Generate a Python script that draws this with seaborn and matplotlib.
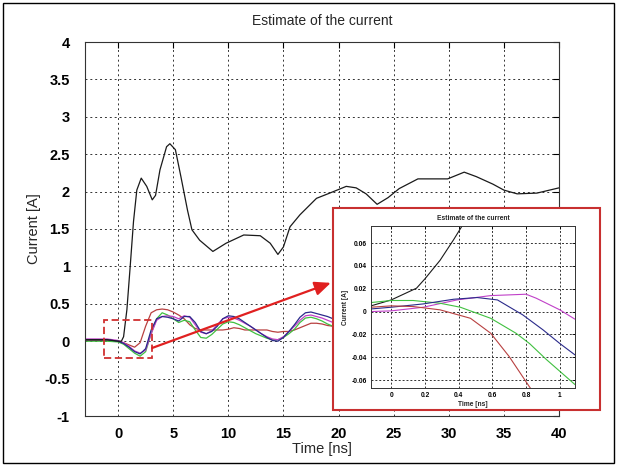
import numpy as np
import pandas as pd
import matplotlib
matplotlib.use("Agg")
import matplotlib.pyplot as plt
import seaborn as sns
from matplotlib.patches import Rectangle

sns.set_theme(style="white")
plt.rcParams['font.family'] = ['Liberation Sans', 'DejaVu Sans']

# ---------------- data ----------------
# Main estimate (black)
t_main = [-3, -1, 0, 0.3, 0.5, 0.8, 1.1, 1.4, 1.7, 2.1, 2.6, 3.1, 3.4, 3.8, 4.4, 4.7,
          5.2, 5.7, 6.3, 6.7, 7.4, 8.6, 9.8, 11.4, 12.9, 13.8, 14.5, 15.0, 15.6, 16.5,
          18.0, 19.2, 20.7, 21.6, 22.5, 23.5, 24.5, 25.5, 27.2, 29.9, 31.4, 32.5,
          34.0, 35.0, 36.2, 38.0, 40.0]
i_main = [0.02, 0.02, 0.0, 0.0, 0.06, 0.42, 1.0, 1.6, 2.02, 2.18, 2.07, 1.89, 1.95,
          2.29, 2.6, 2.64, 2.56, 2.2, 1.75, 1.49, 1.35, 1.2, 1.31, 1.42, 1.41, 1.31,
          1.16, 1.26, 1.53, 1.69, 1.91, 1.98, 2.07, 2.05, 1.97, 1.83, 1.92, 2.04,
          2.17, 2.17, 2.26, 2.2, 2.1, 2.02, 1.97, 1.98, 2.05]

# Coloured estimates (visible part)
t_col = [-3, -1, 0, 0.5, 1, 1.5, 2, 2.5, 3, 3.5, 4, 4.5, 5, 5.5, 6, 6.5, 7, 7.5, 8,
         8.5, 9, 9.5, 10, 10.5, 11, 11.5, 12, 12.5, 13, 13.5, 14, 14.5, 15, 15.5,
         16, 16.5, 17, 17.5, 18, 18.5, 19, 19.5, 20]
i_navy = [0.02, 0.02, 0.0, -0.03, -0.08, -0.14, -0.17, -0.1, 0.15, 0.3, 0.33, 0.32,
          0.3, 0.27, 0.33, 0.33, 0.25, 0.13, 0.1, 0.13, 0.2, 0.3, 0.34, 0.33, 0.3,
          0.25, 0.2, 0.15, 0.1, 0.05, 0.01, 0.0, 0.05, 0.13, 0.22, 0.32, 0.38, 0.39,
          0.37, 0.35, 0.33, 0.3, 0.28]
i_magenta = [0.03, 0.03, 0.01, -0.02, -0.07, -0.13, -0.16, -0.12, 0.1, 0.28, 0.33,
             0.34, 0.33, 0.3, 0.34, 0.32, 0.22, 0.12, 0.1, 0.14, 0.22, 0.3, 0.32,
             0.31, 0.28, 0.24, 0.2, 0.15, 0.1, 0.06, 0.03, 0.02, 0.06, 0.13, 0.2,
             0.28, 0.34, 0.35, 0.33, 0.31, 0.28, 0.25, 0.24]
i_green = [0.0, 0.0, -0.01, -0.04, -0.1, -0.16, -0.2, -0.14, 0.1, 0.3, 0.38, 0.35,
           0.3, 0.25, 0.28, 0.26, 0.15, 0.05, 0.04, 0.09, 0.16, 0.23, 0.26, 0.25,
           0.22, 0.18, 0.14, 0.1, 0.07, 0.04, 0.02, 0.02, 0.05, 0.1, 0.16, 0.25,
           0.31, 0.32, 0.3, 0.27, 0.23, 0.2, 0.18]
i_red = [0.01, 0.01, 0.0, -0.02, -0.05, -0.08, -0.02, 0.2, 0.38, 0.42, 0.43, 0.42,
         0.39, 0.35, 0.3, 0.22, 0.17, 0.15, 0.15, 0.15, 0.15, 0.15, 0.16, 0.18, 0.17,
         0.15, 0.15, 0.15, 0.15, 0.15, 0.13, 0.12, 0.13, 0.13, 0.15, 0.18, 0.21,
         0.24, 0.24, 0.23, 0.21, 0.2, 0.2]

# Inset (zoom on 0..1 ns)
t_in_black = [-0.12, 0.0, 0.15, 0.2, 0.29, 0.37, 0.42]
i_in_black = [0.005, 0.0102, 0.0205, 0.0287, 0.045, 0.063, 0.075]
t_in_green = [-0.12, 0.0, 0.13, 0.29, 0.41, 0.59, 0.74, 0.82, 0.92, 1.09]
i_in_green = [0.0079, 0.0097, 0.0097, 0.0073, 0.0038, -0.0059, -0.019, -0.028, -0.042, -0.064]
t_in_red = [-0.12, 0.0, 0.13, 0.29, 0.47, 0.59, 0.70, 0.82, 0.84]
i_in_red = [0.0038, 0.005, 0.0044, 0.0015, -0.0059, -0.019, -0.0395, -0.066, -0.07]
t_in_navy = [-0.12, 0.0, 0.19, 0.37, 0.51, 0.63, 0.78, 0.90, 1.0, 1.09]
i_in_navy = [0.0023, 0.0038, 0.0067, 0.0108, 0.0123, 0.0102, -0.0029, -0.016, -0.028, -0.038]
t_in_mag = [-0.12, 0.0, 0.19, 0.39, 0.59, 0.8, 0.86, 1.0, 1.09]
i_in_mag = [0.0, 0.0006, 0.0038, 0.0102, 0.014, 0.0152, 0.0117, 0.0015, -0.0067]

x_ticks = [0, 5, 10, 15, 20, 25, 30, 35, 40]
y_ticks = [-1, -0.5, 0, 0.5, 1, 1.5, 2, 2.5, 3, 3.5, 4]
y_tick_labels = ["-1", "-0.5", "0", "0.5", "1", "1.5", "2", "2.5", "3", "3.5", "4"]
in_x_ticks = [0, 0.2, 0.4, 0.6, 0.8, 1]
in_x_labels = ["0", "0.2", "0.4", "0.6", "0.8", "1"]
in_y_ticks = [-0.06, -0.04, -0.02, 0, 0.02, 0.04, 0.06]
in_y_labels = ["-0.06", "-0.04", "-0.02", "0", "0.02", "0.04", "0.06"]

C_BLACK = "#1a1a1a"
C_NAVY = "#2a2a8a"
C_MAG = "#c040c8"
C_GREEN = "#40c040"
C_RED = "#b84040"

# ---------------- figure ----------------
fig = plt.figure(figsize=(6.17, 4.66), dpi=100)
fig.patch.set_facecolor("white")
fig.patches.append(Rectangle((3 / 617, 3 / 466), 611 / 617, 460 / 466, transform=fig.transFigure,
                             fill=False, edgecolor="black", linewidth=1.0, zorder=0))

ax = fig.add_axes([85 / 617, 50 / 466, 474 / 617, 374 / 466])
ax.set_zorder(1)

def draw(axis, t, v, color, lw):
    df = pd.DataFrame({"t": t, "v": v})
    sns.lineplot(data=df, x="t", y="v", ax=axis, color=color, linewidth=lw,
                 estimator=None, sort=False)

draw(ax, t_col, i_red, C_RED, 0.9)
draw(ax, t_col, i_green, C_GREEN, 0.9)
draw(ax, t_col, i_magenta, C_MAG, 0.9)
draw(ax, t_col, i_navy, C_NAVY, 0.9)
draw(ax, t_main, i_main, C_BLACK, 0.9)

ax.set_xlim(-3, 40)
ax.set_ylim(-1, 4)
ax.set_xticks(x_ticks)
ax.set_xticklabels([str(v) for v in x_ticks])
ax.set_yticks(y_ticks)
ax.set_yticklabels(y_tick_labels)
ax.tick_params(direction="in", length=4, width=0.8, top=True, right=True,
               labelsize=10.5, colors="black")
ax.tick_params(axis="y", pad=11)
ax.tick_params(axis="x", pad=8)
for lab in ax.get_xticklabels() + ax.get_yticklabels():
    lab.set_fontweight("bold")
ax.grid(True, color="#333333", linestyle=(0, (2, 3)), linewidth=0.7)
for s in ax.spines.values():
    s.set_visible(True)
    s.set_color("#333333")
    s.set_linewidth(0.8)
ax.set_xlabel("Time [ns]", fontsize=10.5, labelpad=1)
ax.set_ylabel("Current [A]", fontsize=10.5, labelpad=2)
ax.set_title("Estimate of the current", fontsize=10, pad=12)

# red dashed zoom rectangle
ax.add_patch(Rectangle((-1.27, -0.23), 4.35, 0.52, fill=False, edgecolor="#d03030",
                       linestyle=(0, (4, 2)), linewidth=1.3, zorder=5))
# arrow
ax.annotate("", xy=(19.3, 0.78), xytext=(3.1, -0.09),
            arrowprops=dict(arrowstyle="-|>,head_length=0.8,head_width=0.35",
                            color="#e02020", linewidth=1.6, shrinkA=0, shrinkB=0),
            zorder=6)

# inset frame
fig.patches.append(Rectangle((333 / 617, 56 / 466), 267 / 617, 202 / 466, transform=fig.transFigure,
                             facecolor="white", edgecolor="#c83030", linewidth=1.5, zorder=2))

axin = fig.add_axes([371 / 617, 78 / 466, 204 / 617, 162 / 466])
axin.set_zorder(3)
draw(axin, t_in_black, i_in_black, C_BLACK, 0.8)
draw(axin, t_in_mag, i_in_mag, C_MAG, 0.8)
draw(axin, t_in_green, i_in_green, C_GREEN, 0.8)
draw(axin, t_in_navy, i_in_navy, C_NAVY, 0.8)
draw(axin, t_in_red, i_in_red, C_RED, 0.8)
axin.set_xlim(-0.12, 1.09)
axin.set_ylim(-0.067, 0.075)
axin.set_xticks(in_x_ticks)
axin.set_xticklabels(in_x_labels)
axin.set_yticks(in_y_ticks)
axin.set_yticklabels(in_y_labels)
axin.tick_params(direction="in", length=2, width=0.6, top=True, right=True,
                 labelsize=4.8, pad=3, colors="black")
for lab in axin.get_xticklabels() + axin.get_yticklabels():
    lab.set_fontweight("bold")
axin.grid(True, color="#333333", linestyle=(0, (2, 2)), linewidth=0.7)
for s in axin.spines.values():
    s.set_visible(True)
    s.set_color("#333333")
    s.set_linewidth(0.7)
axin.set_xlabel("Time [ns]", fontsize=4.8, labelpad=1, fontweight="bold")
axin.set_ylabel("Current [A]", fontsize=4.8, labelpad=2, fontweight="bold")
axin.set_title("Estimate of the current", fontsize=4.8, pad=4, fontweight="bold")

fig.savefig("out.png", dpi=100)
